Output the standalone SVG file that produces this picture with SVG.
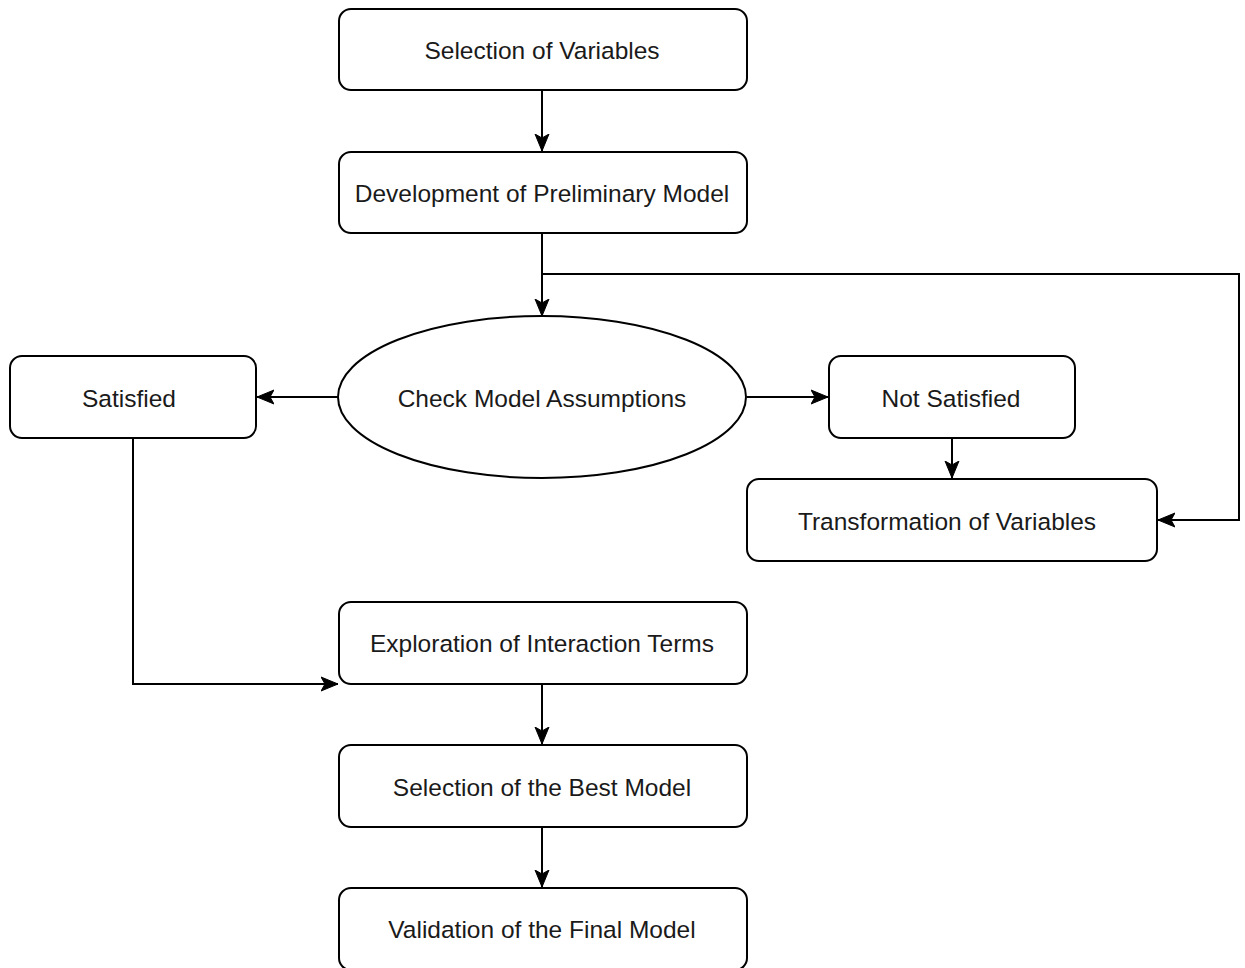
<svg xmlns="http://www.w3.org/2000/svg" width="1245" height="968" viewBox="0 0 1245 968">
  <defs>
    <style>
      .node { fill: #ffffff; stroke: #000000; stroke-width: 2; }
      .label { font-family: "Liberation Sans", Arial, sans-serif; font-size: 24.5px; fill: #1a1a1a; text-anchor: middle; dominant-baseline: central; }
      .edge { fill: none; stroke: #000000; stroke-width: 2; }
    </style>
    <marker id="arrow" markerUnits="userSpaceOnUse" viewBox="0 0 18 16" refX="17" refY="8" markerWidth="18" markerHeight="16" orient="auto">
      <path d="M0,1 L17,8 L0,15 L4,8 Z" fill="#000000" stroke="#000000" stroke-width="1" stroke-linejoin="miter"/>
    </marker>
  </defs>
  <rect width="1245" height="968" fill="#ffffff"/>

  <g id="connectors">
    <path class="edge" d="M542,90 L542,151" marker-end="url(#arrow)"/>
    <path class="edge" d="M542,233 L542,316" marker-end="url(#arrow)"/>
    <path class="edge" d="M542,274 L1239,274 L1239,520 L1158,520" marker-end="url(#arrow)"/>
    <path class="edge" d="M338,397 L257,397" marker-end="url(#arrow)"/>
    <path class="edge" d="M747,397 L828,397" marker-end="url(#arrow)"/>
    <path class="edge" d="M952,438 L952,478" marker-end="url(#arrow)"/>
    <path class="edge" d="M133,438 L133,684 L338,684" marker-end="url(#arrow)"/>
    <path class="edge" d="M542,684 L542,744" marker-end="url(#arrow)"/>
    <path class="edge" d="M542,827 L542,887" marker-end="url(#arrow)"/>
  </g>

  <g id="selection-of-variables">
    <rect class="node" x="339" y="9" width="408" height="81" rx="12"/>
    <text class="label" x="542" y="50">Selection of Variables</text>
  </g>
  <g id="preliminary-model">
    <rect class="node" x="339" y="152" width="408" height="81" rx="12"/>
    <text class="label" x="542" y="193">Development of Preliminary Model</text>
  </g>
  <g id="check-assumptions">
    <ellipse class="node" cx="542" cy="397" rx="204" ry="81"/>
    <text class="label" x="542" y="398">Check Model Assumptions</text>
  </g>
  <g id="satisfied">
    <rect class="node" x="10" y="356" width="246" height="82" rx="12"/>
    <text class="label" x="129" y="398">Satisfied</text>
  </g>
  <g id="not-satisfied">
    <rect class="node" x="829" y="356" width="246" height="82" rx="12"/>
    <text class="label" x="951" y="398">Not Satisfied</text>
  </g>
  <g id="transformation">
    <rect class="node" x="747" y="479" width="410" height="82" rx="12"/>
    <text class="label" x="947" y="521">Transformation of Variables</text>
  </g>
  <g id="interaction-terms">
    <rect class="node" x="339" y="602" width="408" height="82" rx="12"/>
    <text class="label" x="542" y="643">Exploration of Interaction Terms</text>
  </g>
  <g id="best-model">
    <rect class="node" x="339" y="745" width="408" height="82" rx="12"/>
    <text class="label" x="542" y="787">Selection of the Best Model</text>
  </g>
  <g id="final-model">
    <rect class="node" x="339" y="888" width="408" height="82" rx="12"/>
    <text class="label" x="542" y="929">Validation of the Final Model</text>
  </g>
</svg>
